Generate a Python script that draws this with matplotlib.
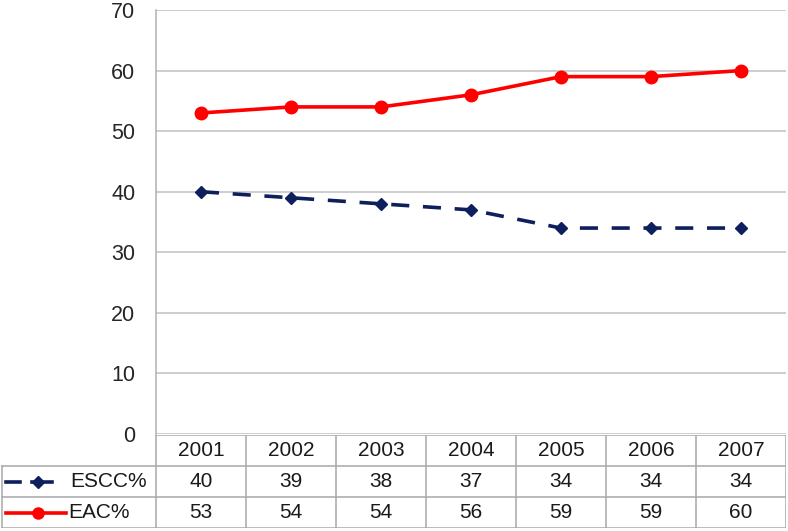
import matplotlib
matplotlib.use("Agg")
import matplotlib.pyplot as plt
from matplotlib.lines import Line2D

plt.rcParams["font.family"] = ["Liberation Sans", "DejaVu Sans"]

years = ["2001", "2002", "2003", "2004", "2005", "2006", "2007"]
escc = [40, 39, 38, 37, 34, 34, 34]
eac = [53, 54, 54, 56, 59, 59, 60]
series_names = ["ESCC%", "EAC%"]

W, H = 788, 531
fig = plt.figure(figsize=(W / 100, H / 100), dpi=100)

# main plot area (pixel box converted to figure fractions)
left, right, top, bottom = 156, 786, 10, 434
ax = fig.add_axes([left / W, 1 - bottom / H, (right - left) / W, (bottom - top) / H])
x = list(range(len(years)))

navy = "#0d1f5c"
dash = (0, (5, 3.8))
ax.plot(x, eac, color="#ff0000", lw=2.6, marker="o", ms=9, zorder=3)
ax.plot(x, escc, color=navy, lw=2.6, ls=dash, marker="D", ms=6, zorder=3)

ax.set_xlim(-0.5, len(years) - 0.5)
ax.set_ylim(0, 70)
ax.set_yticks(range(0, 71, 10))
ax.yaxis.grid(True, color="#c0c0c0", lw=1.1)
ax.set_axisbelow(True)
ax.set_xticks([])
ax.tick_params(axis="y", length=0, pad=15, labelsize=15.5, labelcolor="#262626")
for s in ["top", "right", "bottom"]:
    ax.spines[s].set_visible(False)
ax.spines["left"].set_color("#b0b0b0")
ax.spines["left"].set_linewidth(1.1)

# data table underneath, columns aligned with the categories
tb_top, tb_bot = 435, 528
xl = -0.5 - left / 90.0
tab = fig.add_axes([0, 1 - tb_bot / H, right / W, (tb_bot - tb_top) / H])
tab.set_xlim(xl, len(years) - 0.5)
tab.set_ylim(3, 0)
tab.axis("off")

gc = "#a8a8a8"
n = len(years)
# horizontal borders
tab.plot([-0.5, n - 0.5], [0, 0], color=gc, lw=1.1)
for r in [1, 2, 3]:
    tab.plot([xl + 0.02, n - 0.5], [r, r], color=gc, lw=1.1)
# vertical borders
for c in range(n + 1):
    tab.plot([c - 0.5, c - 0.5], [0, 3], color=gc, lw=1.1)
tab.plot([xl + 0.02, xl + 0.02], [1, 3], color=gc, lw=1.1)

fs = 15
tc = "#1a1a1a"
for i, yr in enumerate(years):
    tab.text(i, 0.5, yr, ha="center", va="center", fontsize=fs, color=tc)
    tab.text(i, 1.5, str(escc[i]), ha="center", va="center", fontsize=fs, color=tc)
    tab.text(i, 2.5, str(eac[i]), ha="center", va="center", fontsize=fs, color=tc)

# legend keys inside the row label cells
u = 1 / 90.0
tab.add_line(Line2D([xl + 6 * u, xl + 20 * u], [1.5, 1.5], color=navy, lw=2.6, clip_on=False))
tab.add_line(Line2D([xl + 32 * u, xl + 52 * u], [1.5, 1.5], color=navy, lw=2.6, clip_on=False))
tab.add_line(Line2D([xl + 38 * u], [1.5], color=navy, marker="D", ms=6, clip_on=False))
tab.text(xl + 70 * u, 1.5, series_names[0], ha="left", va="center", fontsize=fs, color=tc)
tab.add_line(Line2D([xl + 6 * u, xl + 66 * u], [2.5, 2.5], color="#ff0000", lw=2.6, clip_on=False))
tab.add_line(Line2D([xl + 38 * u], [2.5], color="#ff0000", marker="o", ms=8, clip_on=False))
tab.text(xl + 68 * u, 2.5, series_names[1], ha="left", va="center", fontsize=fs, color=tc)

fig.savefig("out.png", dpi=100)
